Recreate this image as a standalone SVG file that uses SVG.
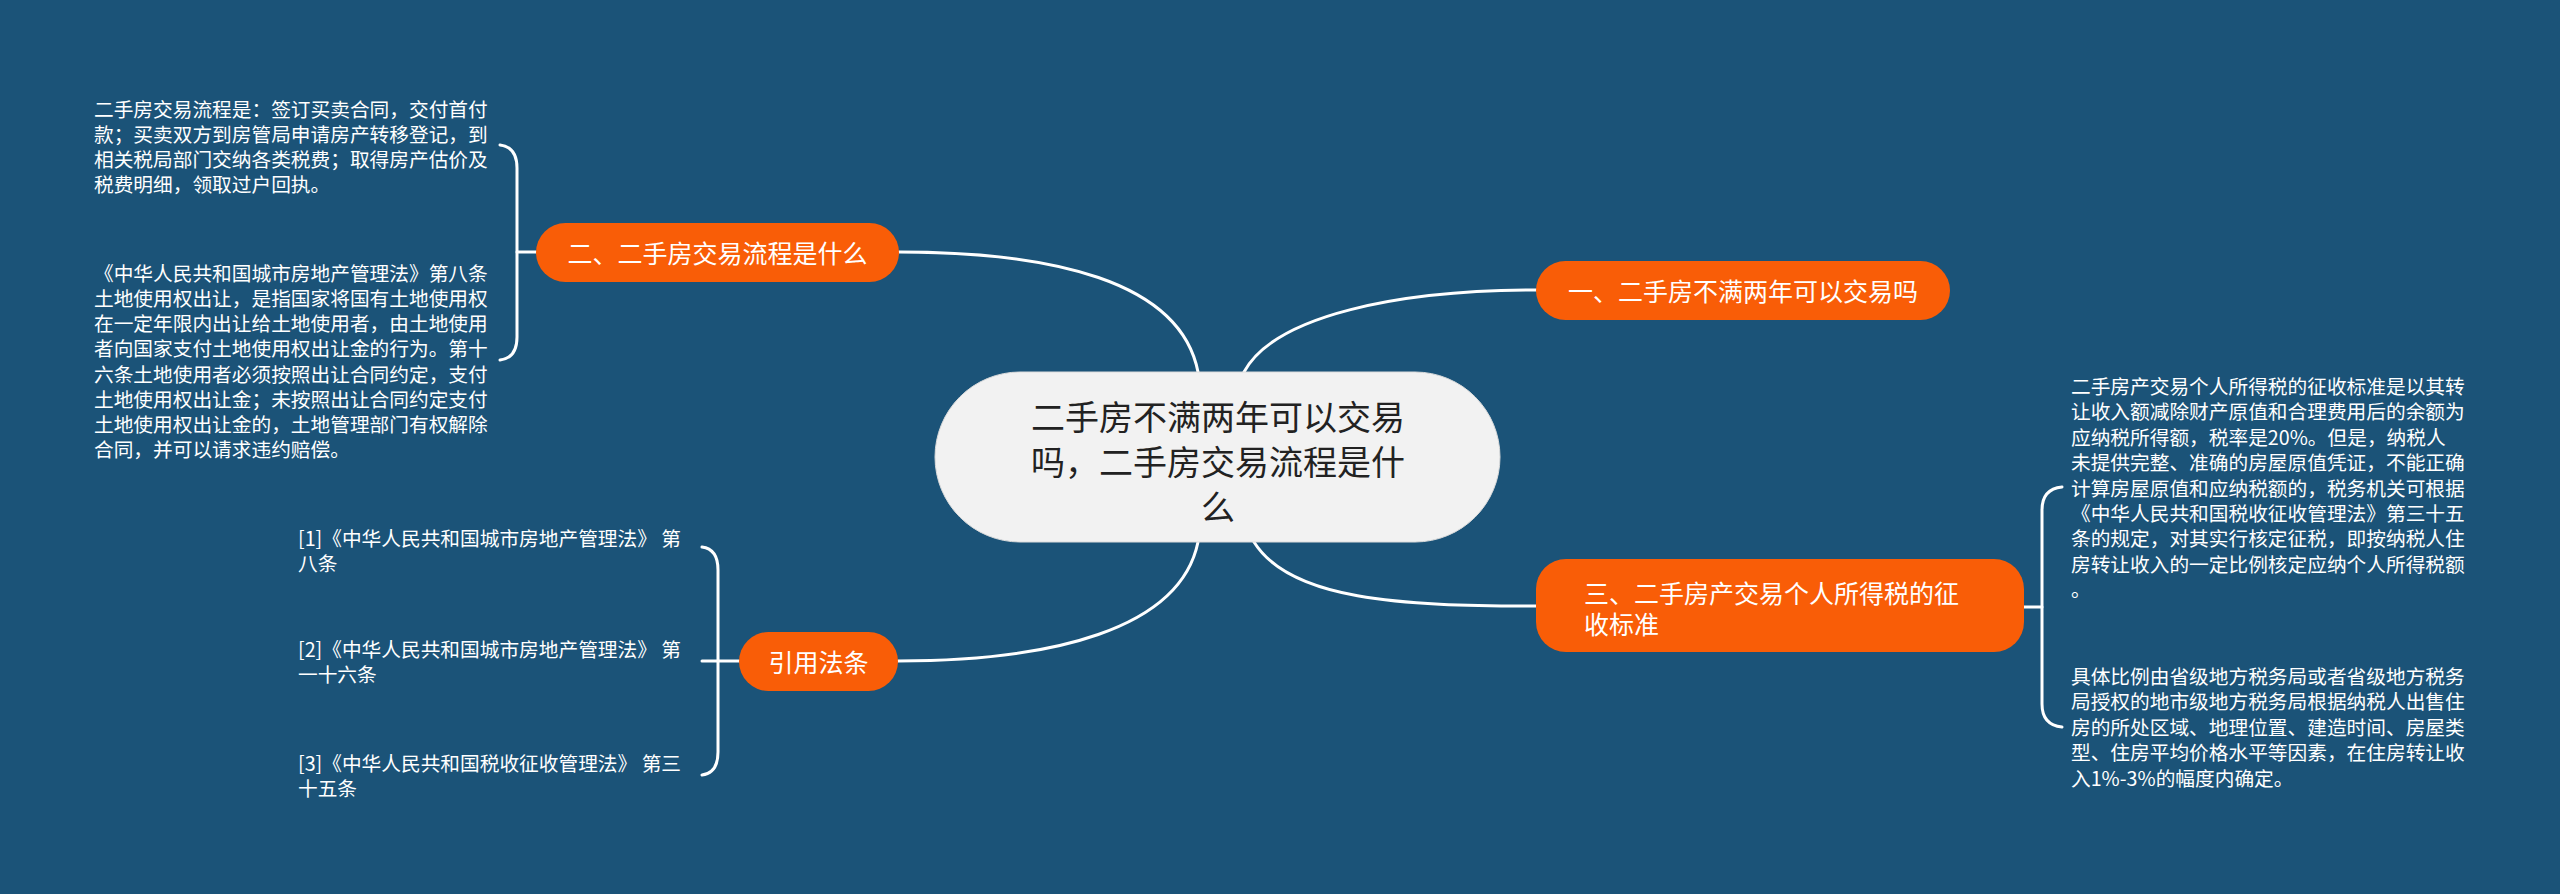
<svg xmlns="http://www.w3.org/2000/svg" width="2560" height="894" viewBox="0 0 2560 894">
<style>
.bg{fill:#1b5378}
.link{fill:none;stroke:#ffffff;stroke-width:3;stroke-linecap:round}
.topic{fill:#f95d07}
.tt{font-family:"Noto Sans CJK SC","Liberation Sans",sans-serif;font-size:25px;fill:#ffffff;dominant-baseline:central}
.leaf{font-family:"Noto Sans CJK SC","Liberation Sans",sans-serif;font-size:19.7px;fill:#ffffff;dominant-baseline:central}
.center{font-family:"Noto Sans CJK SC","Liberation Sans",sans-serif;font-size:34px;fill:#222222;dominant-baseline:central;text-anchor:middle}
</style>
<rect class="bg" x="0" y="0" width="2560" height="894"/>
<g id="connectors">
<path class="link" d="M1244,372 C1275,315 1400,290 1536,290"/>
<path class="link" d="M1198,372 C1180,280 1050,252 899,252"/>
<path class="link" d="M1254,542 C1290,600 1400,606 1536,606"/>
<path class="link" d="M1198,542 C1180,630 1050,661 898,661"/>
<path class="link" d="M500,145 Q517,147 517,168 L517,337 Q517,358 500,360"/>
<line class="link" x1="517" y1="252" x2="536" y2="252"/>
<path class="link" d="M702,547 Q718,549 718,570 L718,752 Q718,773 702,775"/>
<line class="link" x1="702" y1="661" x2="739" y2="661"/>
<path class="link" d="M2062,487 Q2042,489 2042,510 L2042,704 Q2042,725 2062,727"/>
<line class="link" x1="2024" y1="607" x2="2042" y2="607"/>
</g>
<g id="center-node">
<rect x="935" y="372" width="565" height="170" rx="85" ry="85" fill="#f2f2f2" stroke="#dcdcdc" stroke-width="1"/>
<text class="center" x="1218" y="415">二手房不满两年可以交易</text>
<text class="center" x="1218" y="460">吗，二手房交易流程是什</text>
<text class="center" x="1218" y="505">么</text>
</g>
<g id="node-1">
<rect class="topic" x="1536" y="261" width="414" height="59" rx="29.5"/>
<text class="tt" x="1743" y="290" text-anchor="middle">一、二手房不满两年可以交易吗</text>
</g>
<g id="node-2">
<rect class="topic" x="536" y="223" width="363" height="59" rx="29.5"/>
<text class="tt" x="717.5" y="252" text-anchor="middle">二、二手房交易流程是什么</text>
</g>
<g id="node-3">
<rect class="topic" x="1536" y="559" width="488" height="93" rx="30"/>
<text class="tt" x="1584" y="592">三、二手房产交易个人所得税的征</text>
<text class="tt" x="1584" y="623">收标准</text>
</g>
<g id="node-refs">
<rect class="topic" x="739" y="632" width="159" height="59" rx="29.5"/>
<text class="tt" x="818.5" y="661" text-anchor="middle">引用法条</text>
</g>
<g id="leaf-2a">
<text class="leaf" x="94" y="108">二手房交易流程是：签订买卖合同，交付首付</text>
<text class="leaf" x="94" y="133">款；买卖双方到房管局申请房产转移登记，到</text>
<text class="leaf" x="94" y="158">相关税局部门交纳各类税费；取得房产估价及</text>
<text class="leaf" x="94" y="183">税费明细，领取过户回执。</text>
</g>
<g id="leaf-2b">
<text class="leaf" x="94" y="272">《中华人民共和国城市房地产管理法》第八条</text>
<text class="leaf" x="94" y="297">土地使用权出让，是指国家将国有土地使用权</text>
<text class="leaf" x="94" y="322">在一定年限内出让给土地使用者，由土地使用</text>
<text class="leaf" x="94" y="347">者向国家支付土地使用权出让金的行为。第十</text>
<text class="leaf" x="94" y="373">六条土地使用者必须按照出让合同约定，支付</text>
<text class="leaf" x="94" y="398">土地使用权出让金；未按照出让合同约定支付</text>
<text class="leaf" x="94" y="423">土地使用权出让金的，土地管理部门有权解除</text>
<text class="leaf" x="94" y="448">合同，并可以请求违约赔偿。</text>
</g>
<g id="ref-1">
<text class="leaf" x="298" y="537">[1]《中华人民共和国城市房地产管理法》 第</text>
<text class="leaf" x="298" y="562">八条</text>
</g>
<g id="ref-2">
<text class="leaf" x="298" y="648">[2]《中华人民共和国城市房地产管理法》 第</text>
<text class="leaf" x="298" y="673">一十六条</text>
</g>
<g id="ref-3">
<text class="leaf" x="298" y="762">[3]《中华人民共和国税收征收管理法》 第三</text>
<text class="leaf" x="298" y="787">十五条</text>
</g>
<g id="leaf-3a">
<text class="leaf" x="2071" y="385">二手房产交易个人所得税的征收标准是以其转</text>
<text class="leaf" x="2071" y="410">让收入额减除财产原值和合理费用后的余额为</text>
<text class="leaf" x="2071" y="436">应纳税所得额，税率是20%。但是，纳税人</text>
<text class="leaf" x="2071" y="461">未提供完整、准确的房屋原值凭证，不能正确</text>
<text class="leaf" x="2071" y="487">计算房屋原值和应纳税额的，税务机关可根据</text>
<text class="leaf" x="2071" y="512">《中华人民共和国税收征收管理法》第三十五</text>
<text class="leaf" x="2071" y="537">条的规定，对其实行核定征税，即按纳税人住</text>
<text class="leaf" x="2071" y="563">房转让收入的一定比例核定应纳个人所得税额</text>
<text class="leaf" x="2071" y="588">。</text>
</g>
<g id="leaf-3b">
<text class="leaf" x="2071" y="675">具体比例由省级地方税务局或者省级地方税务</text>
<text class="leaf" x="2071" y="700">局授权的地市级地方税务局根据纳税人出售住</text>
<text class="leaf" x="2071" y="726">房的所处区域、地理位置、建造时间、房屋类</text>
<text class="leaf" x="2071" y="751">型、住房平均价格水平等因素，在住房转让收</text>
<text class="leaf" x="2071" y="777">入1%-3%的幅度内确定。</text>
</g>
</svg>
